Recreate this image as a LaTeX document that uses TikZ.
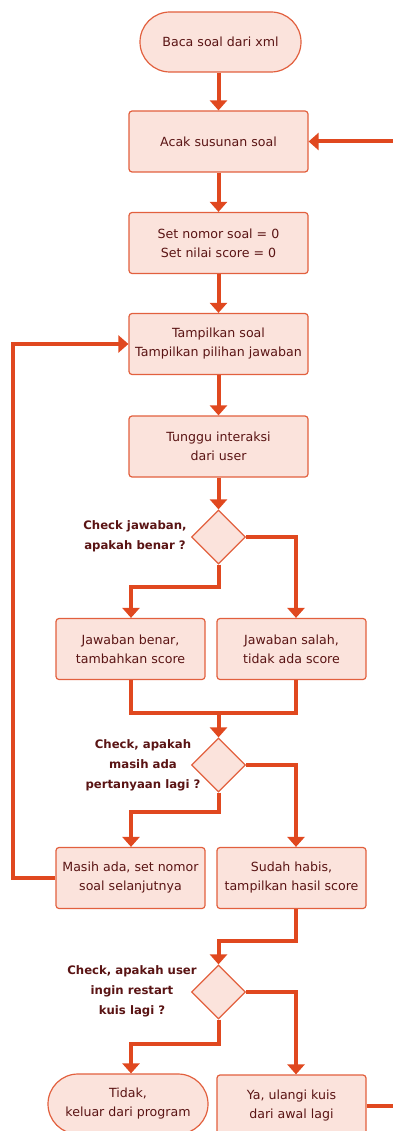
\documentclass[tikz,border=0pt]{standalone}
\usepackage{fontspec}
\setmainfont{DejaVu Sans}
\usetikzlibrary{arrows.meta,shapes.geometric}
\definecolor{ln}{HTML}{E0481F}
\definecolor{fl}{HTML}{FBE3DC}
\definecolor{bd}{HTML}{E2603E}
\definecolor{tx}{HTML}{5A1414}
\begin{document}
\begin{tikzpicture}[x=1pt,y=-1pt,
  base/.style={draw=bd, line width=1.2pt, fill=fl, align=center, text=tx,
    font=\fontsize{12.6}{19}\selectfont, inner sep=0pt},
  box/.style={base, rounded corners=3pt, minimum width=179pt, minimum height=61pt},
  sbox/.style={base, rounded corners=3pt, minimum width=149pt, minimum height=61pt},
  term/.style={base, rounded corners=30pt, minimum height=60pt},
  dec/.style={base, diamond, minimum width=54pt, minimum height=54pt, inner sep=0pt},
  lbl/.style={align=center, text=tx, font=\fontsize{11.7}{20}\selectfont\bfseries},
  conn/.style={draw=ln, line width=4pt},
  arr/.style={conn, -{Triangle[width=17pt,length=10pt]}}
]
\useasboundingbox (0,0) rectangle (392,1131);

\node[term, minimum width=161pt] (start) at (220.5,42) {Baca soal dari xml};
\node[box] (acak) at (218.5,141.5) {Acak susunan soal};
\node[box] (set) at (218.5,243) {Set nomor soal = 0\\Set nilai score = 0};
\node[box] (tamp) at (218.5,344) {Tampilkan soal\\Tampilkan pilihan jawaban};
\node[box] (tunggu) at (218.5,446.5) {Tunggu interaksi\\dari user};
\node[dec] (d1) at (218.5,537) {};
\node[lbl] (l1) at (135,536) {Check jawaban,\\apakah benar ?};
\node[sbox] (benar) at (130.5,649) {Jawaban benar,\\tambahkan score};
\node[sbox] (salah) at (291.5,649) {Jawaban salah,\\tidak ada score};
\coordinate (j1) at (218.5,713);
\node[dec] (d2) at (218.5,765) {};
\node[lbl] (l2) at (143,765) {Check, apakah\\masih ada\\pertanyaan lagi ?};
\node[sbox] (masih) at (130.5,878) {Masih ada, set nomor\\soal selanjutnya};
\node[sbox] (sudah) at (291.5,878) {Sudah habis,\\tampilkan hasil score};
\node[dec] (d3) at (218.5,992) {};
\node[lbl] (l3) at (132,991) {Check, apakah user\\ingin restart\\kuis lagi ?};
\node[term, minimum width=160pt] (tidak) at (128,1104) {Tidak,\\keluar dari program};
\node[sbox] (ya) at (291.5,1105.5) {Ya, ulangi kuis\\dari awal lagi};

\draw[arr] (start.south -| acak.north) -- (acak);
\draw[arr] (acak) -- (set);
\draw[arr] (set) -- (tamp);
\draw[arr] (tamp) -- (tunggu);
\draw[arr] (tunggu) -- (d1);
\draw[arr] (d1.east) -| ([xshift=4.5pt]salah.north);
\draw[arr] (d1.south) -- ++(0,22) -| ([xshift=0.5pt]benar.north);
\draw[conn] ([xshift=0.5pt]benar.south) |- (j1);
\draw[conn] ([xshift=4.5pt]salah.south) |- (j1);
\draw[arr] (j1) -- (d2.north);
\draw[arr] (d2.east) -| ([xshift=4.5pt]sudah.north);
\draw[arr] (d2.south) -- ++(0,19) -| ([xshift=0.5pt]masih.north);
\draw[arr] (masih.west) -- ++(-42,0) |- (tamp.west);
\draw[arr] ([xshift=4.5pt]sudah.south) -- ++(0,32) -| (d3.north);
\draw[arr] (d3.east) -| ([xshift=4.5pt]ya.north);
\draw[arr] (d3.south) -- ++(0,24) -| ([xshift=3pt]tidak.north);
\draw[arr] (ya.east) -- ++(40,0) |- (acak.east);
\end{tikzpicture}
\end{document}
